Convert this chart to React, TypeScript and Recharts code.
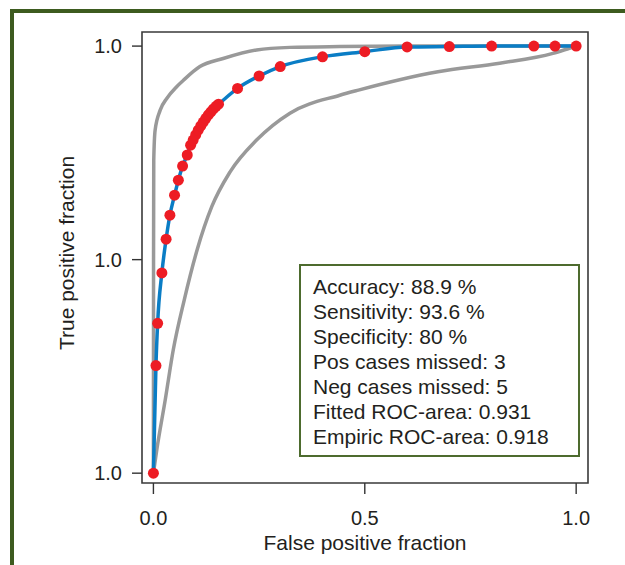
import React from 'react';
import { ComposedChart, Line, XAxis, YAxis, ReferenceArea } from 'recharts';

// empirical ROC points (false positive fraction / true positive fraction)
const fpf = [0, 0.006, 0.010, 0.020, 0.030, 0.039, 0.050, 0.059, 0.069, 0.080, 0.088, 0.094, 0.100, 0.106, 0.112, 0.118, 0.124, 0.130, 0.136, 0.142, 0.148, 0.154, 0.199, 0.250, 0.300, 0.400, 0.500, 0.600, 0.700, 0.800, 0.900, 0.950, 1.000];
const tpf = [0, 0.252, 0.351, 0.469, 0.548, 0.604, 0.651, 0.686, 0.719, 0.745, 0.768, 0.780, 0.792, 0.803, 0.813, 0.822, 0.831, 0.839, 0.846, 0.853, 0.859, 0.864, 0.901, 0.930, 0.952, 0.975, 0.987, 0.998, 0.999, 1.0, 1.0, 1.0, 1.0];

// confidence band, upper and lower
const upperFpf = [0, 0.0003, 0.0008, 0.004, 0.016, 0.032, 0.055, 0.071, 0.110, 0.165, 0.244, 0.323, 0.441, 0.600, 1.0];
const upperTpf = [0, 0.5, 0.733, 0.803, 0.850, 0.878, 0.905, 0.920, 0.952, 0.971, 0.991, 0.997, 0.999, 1.0, 1.0];
const lowerFpf = [0, 0.008, 0.028, 0.047, 0.073, 0.104, 0.138, 0.181, 0.244, 0.323, 0.441, 0.485, 0.673, 0.819, 0.945, 0.984, 1.0];
const lowerTpf = [0, 0.055, 0.172, 0.289, 0.406, 0.525, 0.624, 0.705, 0.780, 0.843, 0.885, 0.897, 0.940, 0.960, 0.983, 0.995, 1.0];

const xTicks = [0, 0.5, 1];
const xTickLabels = ['0.0', '0.5', '1.0'];
const yTicks = [0, 0.5, 1];
const yTickLabels = ['1.0', '1.0', '1.0'];

const statLines = [
    'Accuracy: 88.9 %',
    'Sensitivity: 93.6 %',
    'Specificity: 80 %',
    'Pos cases missed: 3',
    'Neg cases missed: 5',
    'Fitted ROC-area: 0.931',
    'Empiric ROC-area: 0.918',
];

const X_MIN = -0.027;
const X_MAX = 1.028;
const Y_MIN = -0.023;
const Y_MAX = 1.033;

const toRows = (xs: number[], ys: number[]) => xs.map((x, i) => ({ x, y: ys[i] }));

const rocRows = toRows(fpf, tpf);
const upperRows = toRows(upperFpf, upperTpf);
const lowerRows = toRows(lowerFpf, lowerTpf);

const FONT = '"Liberation Sans", Arial, Helvetica, sans-serif';
const TEXT = '#231f20';
const tickStyle = { fill: TEXT, fontSize: 20, fontFamily: FONT };

export default function App() {
    return (
        <div style={{ position: 'fixed', left: 0, top: 0, width: 625, height: 565, overflow: 'hidden', background: '#fff', fontFamily: FONT }}>
            {/* green outer frame, runs off the page right and bottom */}
            <div style={{ position: 'absolute', left: 10, top: 9, width: 900, height: 900, border: '4px solid #3d5b1f' }} />

            <div style={{ position: 'absolute', left: 0, top: 0 }}>
                <ComposedChart width={625} height={565} margin={{ top: 32, right: 37, bottom: 22, left: 1 }}>
                    <XAxis
                        type="number"
                        dataKey="x"
                        domain={[X_MIN, X_MAX]}
                        allowDataOverflow
                        ticks={xTicks}
                        tickFormatter={(v: number) => xTickLabels[xTicks.indexOf(v)]}
                        axisLine={false}
                        tickSize={11}
                        tickMargin={17}
                        height={60}
                        tick={tickStyle}
                        tickLine={{ stroke: '#333', strokeWidth: 1.4 }}
                    />
                    <YAxis
                        type="number"
                        dataKey="y"
                        domain={[Y_MIN, Y_MAX]}
                        allowDataOverflow
                        ticks={yTicks}
                        tickFormatter={(v: number) => yTickLabels[yTicks.indexOf(v)]}
                        axisLine={false}
                        tickSize={10}
                        tickMargin={10}
                        width={141}
                        tick={tickStyle}
                        tickLine={{ stroke: '#333', strokeWidth: 1.4 }}
                    />
                    <ReferenceArea x1={X_MIN} x2={X_MAX} y1={Y_MIN} y2={Y_MAX} fill="none" fillOpacity={0} stroke="#3a3a3a" strokeWidth={1.6} />
                    <Line data={upperRows} dataKey="y" type="monotone" stroke="#999999" strokeWidth={3.5} dot={false} isAnimationActive={false} />
                    <Line data={lowerRows} dataKey="y" type="monotone" stroke="#999999" strokeWidth={3.5} dot={false} isAnimationActive={false} />
                    <Line
                        data={rocRows}
                        dataKey="y"
                        type="monotone"
                        stroke="#0a7dc5"
                        strokeWidth={3.5}
                        dot={{ r: 5.5, fill: '#ed1c24', stroke: 'none', strokeWidth: 0 }}
                        isAnimationActive={false}
                    />
                </ComposedChart>
            </div>

            {/* axis titles */}
            <div style={{ position: 'absolute', left: 67, top: 253, transform: 'translate(-50%, -50%) rotate(-90deg)', whiteSpace: 'nowrap', fontSize: 21, color: TEXT }}>
                True positive fraction
            </div>
            <div style={{ position: 'absolute', left: 365, top: 543, transform: 'translate(-50%, -50%)', whiteSpace: 'nowrap', fontSize: 21, color: TEXT }}>
                False positive fraction
            </div>

            {/* stats box */}
            <div style={{ position: 'absolute', left: 299, top: 264, width: 277, height: 189, border: '2px solid #4d6b2e', background: '#fff', boxSizing: 'content-box' }}>
                <div style={{ padding: '8px 0 0 12px', fontSize: 21, lineHeight: '25px', color: TEXT, whiteSpace: 'nowrap' }}>
                    {statLines.map((s) => (
                        <div key={s}>{s}</div>
                    ))}
                </div>
            </div>
        </div>
    );
}
